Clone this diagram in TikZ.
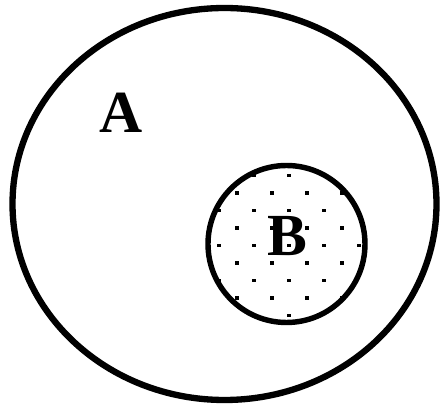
\documentclass[tikz,border=0pt]{standalone}
\usepackage{fontspec}
\setmainfont{Liberation Serif}
\begin{document}
\begin{tikzpicture}[x=0.02cm,y=-0.02cm]
\useasboundingbox (0,0) rectangle (441,405);
\coordinate (CA) at (224.5,204);
\coordinate (CB) at (286.5,244);

% dots inside B
\begin{scope}
\clip (CB) circle[radius=78];
\foreach \i in {-4,-2,...,4}
  \foreach \j in {-4,-2,...,4}
    \fill ({289.3+17.5*\i-1.8},{245.7+17.5*\j-1.8}) rectangle +(3.6,3.6);
\foreach \i in {-5,-3,...,5}
  \foreach \j in {-5,-3,...,5}
    \fill ({289.3+17.5*\i-1.8},{245.7+17.5*\j-1.8}) rectangle +(3.6,3.6);
\end{scope}

\draw[line width=3.6pt] (CA) ellipse[x radius=212, y radius=196];
\draw[line width=3.1pt] (CB) circle[radius=78.5];

\node[font=\fontsize{34}{34}\selectfont\bfseries] (A) at (121,113) {A};
\node[font=\fontsize{34}{34}\selectfont\bfseries] (B) at (287,236) {B};
\end{tikzpicture}
\end{document}
